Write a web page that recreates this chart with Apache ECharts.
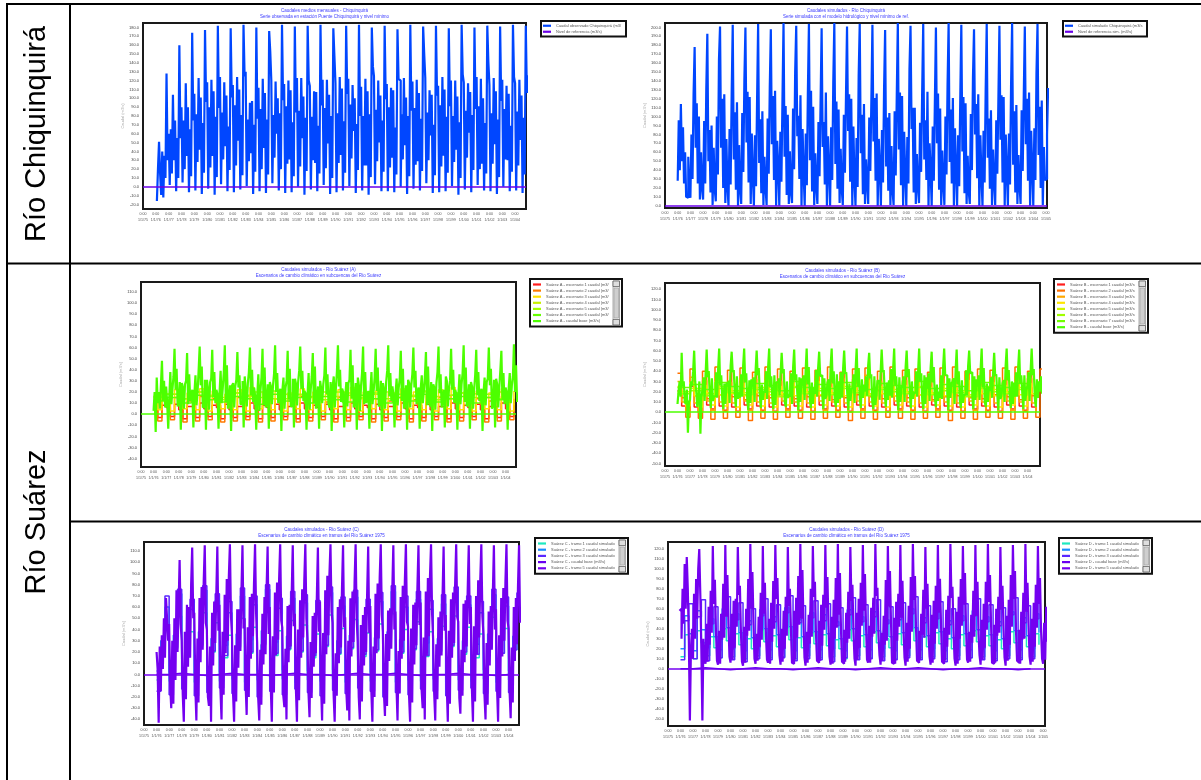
<!DOCTYPE html>
<html><head><meta charset="utf-8">
<script src="https://cdn.jsdelivr.net/npm/echarts@6/dist/echarts.min.js"></script>
<style>html,body{margin:0;padding:0;background:#fff}#c{width:1201px;height:780px}</style>
</head><body><div id="c"></div><script>
// ---------------- DATA (monthly values in y-axis units) ----------------
const rowLabels = ['Río Chiquinquirá', 'Río Suárez'];

// Chart 1 – Río Chiquinquirá (left)
const chqObsStart = 1976 + 1/12;
const chqObsFlow = [
 -1.6, 2.0, 5.1, 1.5, -0.9, 4.0, -1.2, 3.5, 1.0, 12.8, 3.0, 6.0,
 0.2, 6.5, 1.5, 10.4, 3.0, 7.5, -0.5, 5.5, 1.0, 16.0, 5.5, 9.0,
 0.5, 7.5, 2.0, 11.7, 3.5, 9.0, -0.6, 6.5, 1.2, 17.4, 7.5, 10.5,
 -0.4, 8.2, 2.8, 12.3, 4.2, 10.1, -0.8, 7.2, 1.6, 17.7, 9.6, 11.8,
 -0.2, 9.0, 2.2, 12.1, 3.5, 10.8, -0.9, 7.9, 1.1, 18.2, 8.9, 12.4,
 0.3, 8.4, 3.1, 11.8, 4.6, 10.3, -0.5, 6.8, 1.9, 17.9, 10.1, 11.5,
 -0.6, 9.2, 2.4, 12.4, 5.2, 11.0, -0.3, 8.1, 1.3, 18.3, 12.5, 13.0,
 0.1, 7.6, 2.9, 9.5, 3.8, 9.7, -0.8, 7.0, 1.7, 18.0, 7.7, 11.2,
 -0.5, 8.8, 2.0, 12.2, 4.4, 10.6, -0.7, 7.6, 1.4, 17.6, 15.3, 12.0,
 0.4, 8.1, 3.3, 11.9, 6.0, 10.0, -0.4, 8.3, 2.0, 18.3, 9.8, 11.6,
 -0.7, 9.1, 2.6, 12.0, 3.1, 10.9, -0.6, 7.3, 1.2, 18.1, 8.4, 12.3,
 0.0, 8.6, 2.3, 12.3, 5.5, 10.2, -0.9, 7.8, 1.8, 18.2, 12.0, 11.4,
 -0.3, 7.9, 3.0, 10.8, 2.7, 10.7, -0.5, 6.9, 1.5, 18.3, 9.2, 12.1,
 0.2, 8.9, 2.1, 12.1, 4.9, 10.4, -0.8, 8.0, 1.0, 17.9, 14.8, 11.7,
 -0.6, 8.3, 2.7, 12.4, 3.6, 11.1, -0.4, 7.4, 1.6, 18.2, 10.5, 12.2,
 0.1, 9.3, 3.2, 11.5, 6.3, 10.0, -0.7, 7.1, 1.9, 18.3, 8.0, 11.3,
 -0.4, 8.0, 2.4, 12.2, 2.4, 10.8, -0.9, 8.2, 1.1, 18.0, 13.6, 12.5,
 0.3, 8.7, 2.9, 12.0, 5.0, 10.3, -0.5, 7.5, 1.7, 18.2, 9.9, 11.6,
 -0.5, 9.0, 2.2, 11.2, 3.3, 10.9, -0.6, 6.7, 1.4, 17.8, 12.2, 12.0,
 0.0, 8.2, 3.1, 12.3, 4.7, 10.1, -0.8, 8.0, 1.2, 18.3, 8.6, 11.9,
 -0.2, 8.9, 2.5, 12.1, 2.9, 10.6, -0.4, 7.7, 1.8, 18.1, 15.0, 12.3,
 0.4, 8.4, 3.0, 10.9, 5.8, 10.4, -0.7, 7.0, 1.3, 18.2, 10.3, 11.4,
 -0.6, 9.2, 2.3, 12.4, 3.5, 11.0, -0.5, 7.9, 1.6, 17.9, 9.1, 12.0,
 0.1, 8.0, 2.8, 12.0, 4.2, 10.2, -0.9, 7.3, 1.0, 18.3, 12.7, 11.8,
 -0.3, 8.6, 3.3, 11.7, 6.1, 10.7, -0.6, 8.1, 1.9, 18.0, 8.8, 12.4,
 0.2, 9.1, 2.0, 12.2, 2.6, 10.0, -0.4, 7.2, 1.5, 18.2, 14.1, 11.5,
 -0.5, 8.3, 2.6, 12.3, 4.8, 10.8, -0.8, 7.6, 1.1, 18.1, 9.7, 12.1,
 0.0, 8.8, 3.1, 11.4, 3.0, 10.5, -0.5, 6.9, 1.7, 18.3, 12.4, 11.7,
 -0.4, 8.5, 2.4, 12.1, 5.3, 10.3, -0.7, 7.8, 1.4, 18.2, 10.6, 12.6
];

// Chart 2 – Río Chiquinquirá (right)
const chqSimStart = 1976;
const chqSimFlow = [
 2.8, 9.6, 4.0, 11.4, 5.0, 8.8, 2.5, 6.0, 1.0, 0.9, 5.5, 1.5,
 0.9, 8.0, 3.0, 12.5, 17.8, 6.5, 11.5, 2.5, 10.0, 0.7, 6.0, 2.0,
 0.7, 9.5, 2.5, 13.0, 19.3, 5.0, 8.5, 1.5, 9.0, 0.1, 6.5, 1.8,
 0.5, 10.0, 3.5, 16.4, 20.1, 6.5, 12.0, 2.0, 12.5, 0.3, 7.5, 2.2,
 0.0, 8.6, 2.4, 12.6, 20.3, 5.2, 10.5, 1.8, 11.6, 0.0, 6.8, 1.8,
 0.2, 10.4, 3.8, 14.1, 20.0, 7.1, 12.8, 2.6, 12.2, 0.2, 8.1, 3.2,
 0.0, 7.9, 2.2, 11.8, 20.4, 4.8, 9.7, 1.4, 10.6, 0.1, 5.5, 2.0,
 0.1, 9.8, 3.6, 13.3, 19.8, 6.9, 12.3, 2.9, 12.9, 0.0, 7.3, 4.4,
 0.0, 8.3, 2.7, 12.0, 20.5, 5.5, 11.2, 1.2, 10.2, 0.2, 6.1, 1.5,
 0.3, 10.9, 4.1, 15.0, 20.2, 7.8, 10.1, 3.0, 12.4, 0.0, 8.6, 3.6,
 0.0, 8.1, 2.3, 12.7, 20.4, 5.1, 12.9, 1.6, 11.1, 0.1, 5.9, 2.2,
 0.2, 9.4, 3.3, 11.5, 19.9, 6.6, 9.4, 2.4, 12.7, 0.0, 7.8, 4.1,
 0.0, 8.8, 2.9, 13.8, 20.5, 4.7, 11.7, 1.9, 10.8, 0.3, 6.4, 1.9,
 0.1, 10.2, 3.7, 12.2, 20.1, 8.4, 12.5, 2.7, 12.0, 0.0, 8.9, 3.0,
 0.0, 7.6, 2.1, 14.6, 20.4, 5.9, 10.2, 1.3, 11.4, 0.2, 5.2, 2.6,
 0.2, 9.9, 3.9, 11.9, 20.3, 7.2, 12.1, 2.8, 12.6, 0.0, 7.5, 4.3,
 0.0, 8.5, 2.6, 13.1, 19.7, 4.4, 9.9, 1.7, 10.4, 0.1, 6.7, 1.7,
 0.1, 10.6, 3.4, 12.4, 20.5, 6.3, 12.7, 2.3, 12.3, 0.0, 8.3, 3.4,
 0.0, 7.7, 2.5, 15.3, 20.2, 8.6, 11.0, 1.5, 11.0, 0.2, 5.8, 2.1,
 0.3, 9.3, 3.8, 12.8, 20.4, 5.2, 9.6, 2.9, 12.8, 0.0, 7.0, 3.9,
 0.0, 8.9, 2.8, 11.6, 20.0, 7.0, 12.6, 1.8, 10.9, 0.1, 6.2, 2.4,
 0.1, 10.0, 3.5, 13.6, 20.5, 4.9, 10.8, 2.5, 12.1, 0.0, 8.7, 4.0,
 0.0, 7.9, 2.2, 12.1, 20.3, 6.1, 12.2, 1.4, 11.5, 0.2, 5.6, 1.6,
 0.2, 10.3, 4.0, 14.4, 19.8, 8.0, 11.4, 3.1, 12.5, 0.0, 7.9, 3.3,
 0.0, 8.4, 2.6, 12.9, 20.4, 5.4, 9.8, 1.9, 10.7, 0.1, 6.3, 2.7,
 0.1, 9.6, 3.6, 11.7, 20.2, 7.4, 12.4, 2.6, 12.2, 0.0, 8.0, 3.8,
 0.0, 8.1, 2.4, 13.5, 20.5, 4.6, 10.6, 1.5, 11.3, 0.2, 5.7, 2.3,
 0.2, 10.7, 3.9, 12.3, 20.1, 6.9, 12.0, 2.8, 12.7, 0.0, 8.4, 4.2,
 0.0, 8.7, 2.9, 14.8, 20.4, 5.7, 11.1, 2.0, 11.8, 0.1, 6.6, 2.9,
 3.0, 8.0, 13.2
];

// Chart 3 – Río Suárez (row 2, left)
const suaAStart = 1976;
const suaARed = [
 0.5,-0.3,0.8, 0.6,-0.2,0.9, 0.4,-0.4,0.7, 0.7,-0.3,1.0, 0.5,-0.2,0.8, 0.6,-0.4,0.9, 0.4,-0.3,0.7, 0.7,-0.2,1.0, 0.5,-0.4,0.8, 0.6,-0.3,0.9,
 0.4,-0.2,0.7, 0.7,-0.4,1.0, 0.5,-0.3,0.8, 0.6,-0.2,0.9, 0.4,-0.4,0.7, 0.7,-0.3,1.0, 0.5,-0.2,0.8, 0.6,-0.4,0.9, 0.4,-0.3,0.7, 0.7,-0.2,1.0,
 0.5,-0.4,0.8, 0.6,-0.3,0.9, 0.4,-0.2,0.7, 0.7,-0.4,1.0, 0.5,-0.3,0.8, 0.6,-0.2,0.9, 0.4,-0.4,0.7, 0.7,-0.3,1.0, 0.5,-0.2,0.8];
const suaAOrange = [
 1.0,-0.6,1.3, 1.2,-0.5,1.5, 0.9,-0.7,1.2, 1.3,-0.6,1.6, 1.1,-0.5,1.4, 0.8,-0.7,1.1, 1.2,-0.6,1.5, 1.4,-0.5,1.7, 1.0,-0.7,1.3, 1.2,-0.6,1.4,
 0.9,-0.5,1.2, 1.3,-0.7,1.6, 1.1,-0.6,1.3, 0.8,-0.5,1.1, 1.2,-0.7,1.5, 1.4,-0.6,1.7, 1.0,-0.5,1.3, 1.2,-0.7,1.4, 0.9,-0.6,1.2, 1.3,-0.5,1.6,
 1.1,-0.7,1.3, 0.8,-0.6,1.1, 1.2,-0.5,1.5, 1.4,-0.7,1.7, 1.0,-0.6,1.3, 1.2,-0.5,1.4, 0.9,-0.7,1.2, 1.3,-0.6,1.6, 1.1,-0.5,1.4];
const suaAYellow = [
 1.6,0.4,2.0, 1.8,0.3,2.2, 1.5,0.5,1.9, 1.9,0.4,2.3, 1.7,0.3,2.1, 1.4,0.5,1.8, 1.8,0.4,2.2, 2.0,0.3,2.4, 1.6,0.5,2.0, 1.8,0.4,2.1,
 1.5,0.3,1.9, 1.9,0.5,2.3, 1.7,0.4,2.0, 1.4,0.3,1.8, 1.8,0.5,2.2, 2.0,0.4,2.4, 1.6,0.3,2.0, 1.8,0.5,2.1, 1.5,0.4,1.9, 1.9,0.3,2.3,
 1.7,0.5,2.0, 1.4,0.4,1.8, 1.8,0.3,2.2, 2.0,0.5,2.4, 1.6,0.4,2.0, 1.8,0.3,2.1, 1.5,0.5,1.9, 1.9,0.4,2.3, 1.7,0.3,2.1];
const suaAYellowGreen = [1.6,1.8,1.4,2.0,1.7,1.5,1.9,1.6,2.0,1.4,1.8,1.7,1.5,2.0,1.6,1.9,1.4,1.8,2.0,1.5,1.7,2.0,1.6,1.4,1.9,1.8,1.5,2.0,1.7];
const suaALime = [1.5,1.8,1.4,2.0,1.6,1.3,1.9,1.7,1.5,2.1,1.4,1.8,1.6,1.3,2.0,1.7,1.5,1.9,1.4,1.8,1.6,2.1,1.3,1.7,1.9,1.5,1.8,1.4,2.0];
const suaAGreen = [1.2,1.5,1.0,1.7,1.3,1.1,1.6,1.4,0.9,1.8,1.2,1.5,1.0,1.6,1.3,1.1,1.7,1.4,1.0,1.5,1.2,1.8,1.1,1.4,1.6,1.0,1.5,1.3,1.7];
const suaAMain = [
 0.3, 2.0, -1.6, 3.3, 1.0, 2.0, 0.5, 2.6, 4.8, 1.2, 3.0, 0.6,
 2.5, 1.0, -1.3, 1.5, 3.8, 0.9, 2.2, 3.4, 5.9, 2.2, 4.1, 0.7,
 1.0, 2.9, -1.4, 2.8, 2.4, 0.5, 2.7, 3.0, 5.5, 0.9, 3.6, 1.2,
 1.8, 2.2, -1.2, 1.9, 3.5, 0.8, 2.0, 3.9, 6.1, 2.6, 4.3, 0.6,
 0.7, 3.1, -1.4, 3.1, 2.2, 0.4, 2.9, 3.2, 5.8, 1.5, 3.8, 1.0,
 2.2, 1.8, -1.3, 2.0, 3.9, 1.0, 2.3, 3.7, 6.2, 1.1, 4.4, 0.5,
 1.3, 2.6, -1.5, 2.6, 2.8, 0.6, 2.5, 3.1, 5.6, 2.4, 3.5, 0.9,
 0.9, 3.0, -1.2, 3.4, 2.1, 0.7, 2.8, 3.8, 6.0, 1.7, 4.0, 1.1,
 2.4, 1.6, -1.4, 1.7, 3.6, 0.3, 2.1, 3.3, 5.9, 0.8, 4.2, 0.6,
 1.1, 2.7, -1.3, 2.9, 2.5, 0.9, 2.6, 3.6, 6.2, 2.0, 3.7, 1.0,
 1.9, 2.3, -1.5, 2.2, 3.3, 0.5, 2.4, 3.0, 5.7, 1.3, 4.1, 0.7,
 0.8, 3.2, -1.2, 3.2, 2.7, 0.8, 2.9, 3.9, 6.1, 2.3, 3.9, 1.2,
 2.1, 1.9, -1.4, 1.8, 3.7, 0.4, 2.2, 3.4, 5.5, 1.0, 4.3, 0.5,
 1.4, 2.5, -1.3, 3.0, 2.3, 1.0, 2.7, 3.5, 6.0, 1.8, 3.6, 0.9,
 0.6, 2.9, -1.5, 2.5, 3.4, 0.6, 2.3, 3.8, 6.2, 2.5, 4.0, 1.1,
 2.3, 2.0, -1.2, 1.6, 2.9, 0.7, 2.8, 3.1, 5.8, 1.4, 4.4, 0.6,
 1.0, 2.8, -1.4, 3.3, 2.6, 0.3, 2.5, 3.7, 6.1, 0.9, 3.8, 1.0,
 1.7, 2.1, -1.3, 2.1, 3.8, 0.9, 2.0, 3.3, 5.9, 2.1, 4.2, 0.7,
 0.9, 3.0, -1.5, 2.8, 2.2, 0.5, 2.9, 3.9, 6.2, 1.6, 3.7, 1.2,
 2.5, 1.7, -1.2, 1.9, 3.2, 0.8, 2.4, 3.2, 5.7, 1.2, 4.1, 0.5,
 1.2, 2.6, -1.4, 3.1, 2.8, 0.6, 2.6, 3.6, 6.0, 2.4, 3.9, 0.9,
 2.0, 2.4, -1.3, 2.3, 3.5, 1.0, 2.1, 3.4, 5.6, 0.8, 4.3, 1.1,
 0.7, 2.9, -1.5, 2.7, 2.4, 0.4, 2.8, 3.8, 6.1, 1.9, 3.6, 0.6,
 1.6, 2.2, -1.2, 3.4, 3.0, 0.7, 2.3, 3.0, 5.9, 2.2, 4.0, 1.0,
 2.2, 1.8, -1.4, 1.8, 3.6, 0.9, 2.7, 3.7, 6.2, 1.1, 4.2, 0.7,
 1.1, 2.7, -1.3, 2.9, 2.5, 0.5, 2.2, 3.5, 5.8, 1.7, 3.8, 1.2,
 1.9, 2.3, -1.5, 2.0, 3.3, 0.8, 2.9, 3.2, 6.0, 2.6, 4.1, 0.5,
 0.8, 3.1, -1.2, 3.2, 2.7, 0.6, 2.4, 3.9, 5.7, 1.3, 3.7, 0.9,
 2.4, 2.0, -1.4, 2.4, 3.7, 1.0, 2.6, 3.4, 6.3, 2.0, 4.4, 1.1
];

// Chart 4 – Río Suárez (row 2, right)
const suaBStart = 1976;
const suaBRed = [
 2.1,0.6,0.2, 2.5,0.5,0.1, 2.2,0.7,0.3, 2.6,0.6,0.2, 2.0,0.5,0.1, 2.4,0.7,0.3, 2.3,0.6,0.2, 2.7,0.5,0.1, 2.1,0.7,0.3, 2.5,0.6,0.2,
 2.2,0.5,0.1, 2.6,0.7,0.3, 2.0,0.6,0.2, 2.4,0.5,0.1, 2.3,0.7,0.3, 2.7,0.6,0.2, 2.1,0.5,0.1, 2.5,0.7,0.3, 2.2,0.6,0.2, 2.6,0.5,0.1,
 2.0,0.7,0.3, 2.4,0.6,0.2, 2.3,0.5,0.1, 2.7,0.7,0.3, 2.1,0.6,0.2, 2.5,0.5,0.1, 2.2,0.7,0.3, 2.6,0.6,0.2, 2.4,0.5,0.1];
const suaBOrange = [
 3.8,1.4,-0.5, 4.2,1.6,-0.6, 4.0,1.3,-0.7, 4.4,1.7,-0.6, 4.1,1.5,-0.5, 4.3,1.2,-0.8, 3.9,1.6,-0.6, 4.4,1.4,-0.7, 4.2,1.7,-0.5, 4.0,1.3,-0.6,
 4.3,1.5,-0.7, 4.1,1.6,-0.6, 4.4,1.2,-0.5, 3.9,1.4,-0.8, 4.2,1.7,-0.6, 4.3,1.5,-0.7, 4.0,1.3,-0.5, 4.4,1.6,-0.6, 4.1,1.4,-0.7, 4.2,1.7,-0.6,
 3.9,1.2,-0.5, 4.3,1.5,-0.8, 4.4,1.6,-0.6, 4.0,1.4,-0.7, 4.2,1.3,-0.5, 4.1,1.7,-0.6, 4.3,1.5,-0.7, 4.4,1.2,-0.6, 4.0,1.6,-0.5, 4.2,1.5];
const suaBAmber = [
 3.0,1.0,0.1, 3.4,0.9,0.0, 3.1,1.1,0.2, 3.5,1.0,0.1, 2.9,0.9,0.0, 3.3,1.1,0.2, 3.2,1.0,0.1, 3.6,0.9,0.0, 3.0,1.1,0.2, 3.4,1.0,0.1,
 3.1,0.9,0.0, 3.5,1.1,0.2, 2.9,1.0,0.1, 3.3,0.9,0.0, 3.2,1.1,0.2, 3.6,1.0,0.1, 3.0,0.9,0.0, 3.4,1.1,0.2, 3.1,1.0,0.1, 3.5,0.9,0.0,
 2.9,1.1,0.2, 3.3,1.0,0.1, 3.2,0.9,0.0, 3.6,1.1,0.2, 3.0,1.0,0.1, 3.4,0.9,0.0, 3.1,1.1,0.2, 3.5,1.0,0.1, 3.3,0.9,0.0];
const suaBYellow = [
 2.5,1.8,0.6, 2.9,1.6,0.5, 2.6,1.9,0.7, 3.0,1.7,0.6, 2.4,1.8,0.5, 2.8,1.6,0.7, 2.7,1.9,0.6, 3.1,1.7,0.5, 2.5,1.8,0.7, 2.9,1.6,0.6,
 2.6,1.9,0.5, 3.0,1.7,0.7, 2.4,1.8,0.6, 2.8,1.6,0.5, 2.7,1.9,0.7, 3.1,1.7,0.6, 2.5,1.8,0.5, 2.9,1.6,0.7, 2.6,1.9,0.6, 3.0,1.7,0.5,
 2.4,1.8,0.7, 2.8,1.6,0.6, 2.7,1.9,0.5, 3.1,1.7,0.7, 2.5,1.8,0.6, 2.9,1.6,0.5, 2.6,1.9,0.7, 3.0,1.7,0.6, 2.8,1.8,0.5];
const suaBYellowGreen = [2.0,2.3,1.8,2.5,2.1,1.9,2.4,2.2,1.7,2.5,2.0,2.3,1.9,2.5,2.1,1.8,2.4,2.2,2.0,2.5,1.9,2.3,2.1,1.7,2.5,2.2,2.0,2.4,1.8];
const suaBLime = [1.8,2.1,1.6,2.3,1.9,1.7,2.2,2.0,1.5,2.4,1.8,2.1,1.7,2.3,1.9,1.6,2.2,2.0,1.8,2.4,1.7,2.1,1.9,1.5,2.3,2.0,1.8,2.2,1.6];
const suaBGreen = [2.4,2.7,2.2,2.9,2.5,2.3,2.8,2.6,2.1,3.0,2.4,2.7,2.3,2.9,2.5,2.2,2.8,2.6,2.4,3.0,2.3,2.7,2.5,2.1,2.9,2.6,2.4,2.8,2.2];
const suaBMain = [
 0.8, 2.0, 3.0, 1.5, 5.8, 2.5, 3.0, 1.0, 0.8, 2.2, -2.0, 1.0,
 1.2, 3.0, 2.5, 4.0, 6.0, 3.0, 2.0, 0.5, 1.5, 3.0, -2.1, 1.5,
 2.2, 3.4, 1.1, 3.8, 6.1, 3.4, 4.0, 1.6, 0.4, 3.3, 1.1, 1.5,
 1.6, 3.9, 1.4, 4.2, 6.2, 2.6, 3.6, 1.2, 0.3, 2.8, 0.8, 2.8,
 2.8, 3.1, 0.9, 4.5, 5.9, 3.9, 4.1, 1.8, 0.5, 3.5, 1.3, 1.9,
 1.4, 3.7, 1.5, 4.5, 6.2, 2.9, 3.8, 1.1, 0.2, 3.1, 0.9, 3.2,
 2.5, 3.4, 1.0, 4.1, 6.0, 3.6, 4.3, 1.7, 0.4, 2.7, 1.2, 2.1,
 1.9, 4.0, 1.3, 4.4, 6.2, 2.4, 3.5, 1.4, 0.3, 3.6, 0.7, 2.9,
 3.0, 3.3, 1.6, 3.9, 5.8, 3.8, 4.2, 1.0, 0.5, 3.0, 1.4, 1.7,
 1.5, 3.8, 0.8, 4.4, 6.1, 3.1, 3.7, 1.9, 0.2, 3.4, 1.0, 3.3,
 2.6, 3.6, 1.2, 4.0, 6.2, 2.7, 4.4, 1.3, 0.4, 2.9, 0.8, 2.4,
 1.8, 4.1, 1.5, 4.3, 5.9, 3.5, 3.6, 1.6, 0.3, 3.3, 1.3, 1.6,
 2.9, 3.2, 1.1, 4.5, 6.2, 2.8, 4.0, 1.2, 0.5, 3.7, 0.9, 3.0,
 1.3, 3.9, 1.4, 4.3, 6.0, 3.7, 3.9, 1.8, 0.2, 2.8, 1.1, 2.2,
 2.4, 3.7, 0.9, 4.2, 6.2, 2.5, 4.3, 1.4, 0.4, 3.2, 1.4, 2.7,
 2.0, 3.5, 1.6, 4.5, 5.8, 3.3, 3.7, 1.0, 0.3, 3.5, 0.7, 1.8,
 3.1, 3.0, 1.2, 3.9, 6.1, 3.9, 4.1, 1.7, 0.5, 2.9, 1.2, 3.1,
 1.6, 4.2, 1.4, 4.2, 6.2, 2.6, 3.5, 1.3, 0.2, 3.4, 1.0, 2.3,
 2.7, 3.5, 1.0, 4.4, 6.0, 3.4, 4.2, 1.9, 0.4, 3.0, 1.3, 1.9,
 1.9, 4.0, 1.5, 4.0, 6.2, 3.0, 3.8, 1.1, 0.3, 3.6, 0.8, 3.4,
 2.3, 3.8, 1.1, 4.3, 5.9, 2.9, 4.4, 1.5, 0.5, 2.7, 1.1, 2.0,
 1.4, 3.6, 1.3, 4.4, 6.2, 3.6, 3.6, 1.8, 0.2, 3.3, 1.4, 2.8,
 3.0, 3.3, 0.8, 4.1, 6.1, 2.7, 4.0, 1.2, 0.4, 3.1, 0.9, 1.7,
 1.7, 4.1, 1.6, 4.5, 6.0, 3.8, 3.9, 1.6, 0.3, 3.5, 1.2, 3.2,
 2.5, 3.6, 1.2, 4.2, 6.2, 2.4, 4.3, 1.0, 0.5, 2.8, 1.0, 2.5,
 2.1, 3.4, 1.4, 3.9, 5.8, 3.5, 3.7, 1.7, 0.2, 3.4, 1.3, 1.6,
 2.8, 3.1, 1.0, 4.5, 6.2, 3.1, 4.1, 1.3, 0.4, 3.0, 0.8, 2.9,
 1.5, 3.9, 1.5, 4.3, 6.1, 2.8, 3.6, 1.9, 0.3, 3.6, 1.1, 2.2,
 2.6, 3.9, 1.1, 4.0, 6.2, 3.6, 4.2, 1.4, 0.5, 3.2, 1.4, 3.0,
 2.0, 3.5, 1.8
];

// Chart 5 – Río Suárez (row 3, left)
const suaCStart = 1976;
const suaCCyan = [
 -0.5,1.8,4.0, -0.6,2.3,5.2, -0.4,1.6,3.8, -0.7,2.5,5.5, -0.5,2.0,4.6, -0.6,1.5,3.5, -0.4,2.4,5.0, -0.7,1.9,4.2, -0.5,2.6,5.6, -0.6,1.7,3.9,
 -0.4,2.2,4.8, -0.7,2.0,4.4, -0.5,1.5,3.6, -0.6,2.5,5.3, -0.4,1.8,4.1, -0.7,2.3,4.9, -0.5,1.6,3.7, -0.6,2.1,4.5, -0.4,2.6,5.4, -0.7,1.9,4.0,
 -0.5,2.2,4.7, -0.6,1.6,3.8, -0.4,2.0,4.3, -0.7,2.5,5.2, -0.5,1.8,4.2, -0.6,1.5,3.6, -0.4,2.4,5.1, -0.7,1.9,4.1, -0.5,2.2,4.8];
const suaCAzure = [
 0.3,3.0,6.0, 0.2,3.5,7.2, 0.4,2.8,5.8, 0.1,3.8,7.5, 0.3,3.2,6.6, 0.2,2.6,5.5, 0.4,3.6,7.0, 0.1,3.1,6.2, 0.3,3.9,7.6, 0.2,2.9,5.9,
 0.4,3.4,6.8, 0.1,3.2,6.4, 0.3,2.7,5.6, 0.2,3.7,7.3, 0.4,3.0,6.1, 0.1,3.5,6.9, 0.3,2.8,5.7, 0.2,3.3,6.5, 0.4,3.8,7.4, 0.1,3.1,6.0,
 0.3,3.4,6.7, 0.2,2.8,5.8, 0.4,3.2,6.3, 0.1,3.7,7.2, 0.3,3.0,6.2, 0.2,2.7,5.5, 0.4,3.6,7.1, 0.1,3.1,6.1, 0.3,3.4,6.8];
const suaCBlue = [
 -1.5,2.0,7.0, -1.8,2.4,7.6, -1.3,1.8,6.7, -1.9,2.6,7.9, -1.6,2.1,7.2, -1.2,1.7,6.5, -1.7,2.5,7.7, -1.4,2.0,7.0, -2.0,2.7,8.0, -1.5,1.9,6.8,
 -1.8,2.3,7.4, -1.3,2.1,7.1, -1.6,1.7,6.6, -1.9,2.6,7.8, -1.4,1.9,6.9, -1.7,2.4,7.5, -1.2,1.8,6.7, -1.5,2.2,7.3, -2.0,2.7,7.9, -1.6,2.0,7.0,
 -1.8,2.3,7.4, -1.3,1.7,6.6, -1.5,2.1,7.1, -1.9,2.6,7.8, -1.4,2.0,7.0, -1.2,1.8,6.5, -1.7,2.5,7.6, -1.5,1.9,6.9, -1.6,2.2,7.3];
const suaCPurple = [0.0,0.1,0.0,-0.1,0.0,0.1,0.0,0.0,-0.1,0.0,0.1,0.0,0.0,-0.1,0.0,0.1,0.0,0.0,0.1,0.0,-0.1,0.0,0.0,0.1,0.0,0.0,-0.1,0.0,0.0];
const suaCMain = [
 2.0, 0.5, -4.3, 2.5, -1.5, 3.5, 0.5, 5.0, 1.5, 6.8, 5.0, 3.0,
 4.5, -1.0, -3.0, 3.0, -2.6, 5.0, -0.5, 7.5, 2.0, 6.0, 10.2, 4.5,
 3.0, -1.8, -4.2, 3.8, -2.2, 6.2, 0.7, 6.0, 1.5, 8.0, 11.3, 5.0,
 5.5, -1.2, -4.1, 3.2, -2.5, 6.8, 1.1, 7.8, 2.2, 8.3, 11.5, 4.6,
 4.0, -2.0, -2.8, 2.5, -4.2, 5.5, 0.8, 6.5, 2.8, 7.1, 11.4, 3.9,
 6.2, -1.4, -4.0, 3.8, -1.8, 7.1, 1.9, 8.5, 3.0, 8.8, 11.6, 5.2,
 3.5, -1.7, -4.2, 2.6, -2.4, 5.8, 0.6, 5.8, 2.1, 7.4, 11.5, 4.1,
 5.0, -0.9, -3.6, 4.2, -2.0, 6.9, 1.4, 7.2, 3.4, 8.1, 11.6, 5.5,
 2.8, -2.1, -4.1, 2.2, -2.7, 5.4, 0.9, 6.9, 1.8, 7.6, 11.4, 3.6,
 6.0, -1.1, -4.2, 3.4, -1.6, 7.3, 1.7, 8.2, 3.1, 8.6, 11.6, 4.8,
 4.2, -1.9, -2.9, 2.3, -4.0, 6.1, 1.1, 6.2, 2.5, 7.3, 11.5, 4.3,
 5.4, -1.3, -4.2, 4.0, -2.3, 6.6, 1.5, 7.6, 3.3, 8.4, 11.6, 5.0,
 3.2, -1.6, -3.8, 2.9, -2.1, 5.2, 0.7, 5.5, 1.9, 7.0, 11.3, 3.8,
 6.5, -1.0, -4.1, 3.7, -2.6, 7.5, 1.8, 8.8, 3.5, 8.9, 11.6, 5.6,
 4.6, -1.8, -4.2, 1.9, -1.9, 6.0, 1.0, 6.7, 2.4, 7.7, 11.5, 4.2,
 5.1, -1.2, -3.2, 3.0, -4.1, 6.8, 1.6, 7.4, 2.9, 8.2, 11.6, 4.9,
 2.9, -2.0, -4.0, 4.4, -2.4, 5.3, 0.8, 6.0, 2.0, 7.2, 11.4, 3.7,
 6.1, -1.5, -4.2, 2.5, -2.0, 7.2, 1.9, 8.1, 3.2, 8.7, 11.6, 5.3,
 3.8, -1.6, -3.7, 3.6, -2.8, 5.7, 1.2, 5.9, 2.3, 7.5, 11.5, 4.0,
 5.6, -1.1, -4.1, 2.1, -1.7, 6.9, 1.4, 7.9, 3.0, 8.3, 11.6, 4.7,
 4.3, -1.9, -4.2, 4.1, -2.5, 6.2, 0.9, 6.4, 2.6, 7.8, 11.5, 4.4,
 6.4, -1.4, -3.0, 3.3, -4.0, 7.4, 1.7, 8.6, 3.4, 8.8, 11.6, 5.4,
 3.1, -1.7, -4.1, 2.7, -2.2, 5.1, 0.7, 5.6, 1.7, 7.1, 11.4, 3.9,
 5.3, -1.0, -4.2, 3.9, -2.6, 6.7, 1.5, 7.3, 2.8, 8.0, 11.6, 5.1,
 4.7, -2.1, -3.5, 2.2, -1.9, 6.3, 1.1, 6.6, 2.5, 7.6, 11.5, 4.5,
 6.0, -1.3, -4.2, 4.3, -2.4, 7.0, 1.8, 8.4, 3.3, 8.5, 11.6, 5.2,
 3.6, -1.8, -4.0, 2.8, -2.7, 5.6, 0.8, 6.1, 2.2, 7.3, 11.5, 4.0,
 5.8, -1.2, -4.2, 3.5, -2.1, 6.8, 1.6, 7.7, 3.0, 8.2, 11.6, 4.8,
 4.1, -1.6, -3.9, 2.4, -2.5, 6.0, 1.2, 6.8, 2.7, 7.9, 11.5, 4.6
];

// Chart 6 – Río Suárez (row 3, right)
const suaDStart = 1975 + 11/12;
const suaDSecStart = 1976;
const suaDCyan = [
 1.2,3.4,2.3, 1.0,3.8,2.6, 1.3,3.2,2.1, 1.1,4.0,2.8, 1.2,3.5,2.4, 1.0,3.0,2.0, 1.3,3.9,2.7, 1.1,3.3,2.2, 1.2,4.1,2.9, 1.0,3.1,2.1,
 1.3,3.6,2.5, 1.1,3.4,2.3, 1.2,2.9,2.0, 1.0,3.9,2.8, 1.3,3.3,2.2, 1.1,3.7,2.6, 1.2,3.0,2.1, 1.0,3.5,2.4, 1.3,4.0,2.8, 1.1,3.2,2.2,
 1.2,3.6,2.5, 1.0,3.0,2.0, 1.3,3.4,2.3, 1.1,3.8,2.7, 1.2,3.3,2.3, 1.0,2.9,2.0, 1.3,3.7,2.6, 1.1,3.2,2.2, 1.2,3.5,2.4];
const suaDAzure = [
 2.0,5.3,3.5, 1.8,5.8,3.9, 2.1,5.0,3.2, 1.9,6.0,4.1, 2.0,5.5,3.6, 1.8,4.8,3.1, 2.1,5.9,4.0, 1.9,5.2,3.4, 2.0,6.1,4.2, 1.8,4.9,3.2,
 2.1,5.6,3.7, 1.9,5.4,3.5, 2.0,4.7,3.0, 1.8,5.9,4.0, 2.1,5.2,3.4, 1.9,5.7,3.8, 2.0,4.9,3.2, 1.8,5.4,3.6, 2.1,6.0,4.1, 1.9,5.1,3.3,
 2.0,5.6,3.7, 1.8,4.8,3.1, 2.1,5.3,3.5, 1.9,5.8,3.9, 2.0,5.2,3.4, 1.8,4.7,3.0, 2.1,5.7,3.8, 1.9,5.1,3.3, 2.0,5.5,3.6];
const suaDBlue = [
 0.9,4.8,6.5, 1.0,5.2,6.9, 0.8,4.5,6.2, 1.1,5.5,7.2, 0.9,4.9,6.6, 0.7,4.4,6.0, 1.0,5.3,7.0, 0.9,4.7,6.4, 1.1,5.6,7.3, 0.8,4.6,6.3,
 1.0,5.1,6.8, 0.9,4.8,6.5, 0.7,4.3,6.1, 1.1,5.4,7.1, 0.9,4.7,6.4, 1.0,5.2,6.9, 0.8,4.5,6.2, 0.9,4.9,6.6, 1.1,5.5,7.2, 0.9,4.6,6.3,
 1.0,5.0,6.7, 0.7,4.4,6.0, 0.9,4.8,6.5, 1.1,5.3,7.0, 0.9,4.7,6.4, 0.8,4.3,6.1, 1.0,5.4,7.1, 0.9,4.6,6.3, 1.0,5.0,6.7];
const suaDPurple = [0.0,0.1,0.0,-0.1,0.0,0.1,0.0,0.0,-0.1,0.0,0.1,0.0,0.0,-0.1,0.0,0.1,0.0,0.0,0.1,0.0,-0.1,0.0,0.0,0.1,0.0,0.0,-0.1,0.0,0.0];
const suaDMain = [
 5.8, 6.0, 3.0, 8.0, 4.5, 10.5, 6.0, 11.2, 8.0, 3.0, -5.2, 2.0,
 4.0, 1.0, 7.5, 3.0, 9.0, 5.0, 10.0, 12.0, 7.5, 2.0, -5.2, 3.0,
 1.0, 0.5, 4.5, 0.7, 6.2, 2.4, 7.8, 3.6, 12.3, 6.5, 8.9, 3.9,
 0.8, 0.4, 3.8, 0.5, 5.5, 2.9, 8.5, 3.1, 12.4, 5.2, 9.4, 4.5,
 1.2, 0.6, 5.5, 0.9, 6.8, 2.1, 7.0, 4.2, 12.2, 7.4, 8.3, 3.6,
 0.7, 0.3, 4.2, 0.6, 6.0, 3.3, 9.0, 3.8, 12.5, 6.0, 9.7, 4.8,
 1.0, 0.5, 3.5, 0.8, 5.2, 2.2, 7.6, 2.9, 12.3, 5.5, 8.6, 3.4,
 0.9, 0.6, 5.0, 0.5, 6.6, 2.7, 8.8, 4.0, 12.4, 7.0, 9.1, 4.2,
 1.3, 0.4, 4.0, 0.7, 5.8, 2.0, 7.2, 3.3, 12.2, 6.3, 8.0, 3.8,
 0.6, 0.5, 5.8, 0.9, 7.1, 3.1, 9.3, 4.4, 12.5, 5.0, 9.9, 4.6,
 1.1, 0.3, 3.7, 0.6, 5.4, 2.5, 8.0, 3.2, 12.3, 7.2, 8.7, 3.5,
 0.8, 0.6, 4.8, 0.8, 6.4, 2.3, 7.4, 3.9, 12.4, 6.1, 9.2, 4.3,
 1.2, 0.4, 5.2, 0.5, 6.9, 3.0, 9.1, 4.1, 12.5, 5.4, 9.6, 4.0,
 0.7, 0.5, 3.9, 0.7, 5.6, 2.6, 7.7, 3.0, 12.2, 6.8, 8.4, 3.7,
 1.0, 0.3, 5.6, 0.9, 7.0, 2.1, 8.6, 4.3, 12.4, 5.8, 9.5, 4.4,
 0.9, 0.6, 4.3, 0.6, 6.1, 3.2, 7.1, 3.5, 12.5, 7.3, 8.1, 3.3,
 1.3, 0.4, 3.6, 0.8, 5.3, 2.4, 8.9, 2.8, 12.3, 6.2, 9.8, 4.7,
 0.6, 0.5, 5.1, 0.5, 6.7, 2.8, 7.5, 4.2, 12.4, 5.1, 8.8, 3.9,
 1.1, 0.3, 4.6, 0.7, 6.3, 2.0, 9.2, 3.7, 12.5, 6.9, 9.3, 4.1,
 0.8, 0.6, 3.8, 0.9, 5.5, 3.4, 7.9, 3.1, 12.2, 6.0, 8.5, 3.6,
 1.2, 0.4, 5.4, 0.6, 6.8, 2.5, 8.3, 4.0, 12.4, 5.6, 9.0, 4.5,
 0.7, 0.5, 4.1, 0.8, 5.9, 2.2, 7.3, 3.4, 12.5, 7.1, 8.2, 3.8,
 1.0, 0.3, 5.7, 0.5, 7.2, 3.0, 9.0, 4.3, 12.3, 6.4, 9.6, 4.2,
 0.9, 0.6, 3.7, 0.7, 5.4, 2.6, 7.8, 3.2, 12.4, 5.3, 8.7, 3.5,
 1.3, 0.4, 4.9, 0.9, 6.5, 2.1, 8.7, 3.9, 12.5, 6.7, 9.4, 4.6,
 0.6, 0.5, 4.4, 0.6, 6.0, 3.3, 7.2, 3.6, 12.2, 5.9, 8.3, 4.0,
 1.1, 0.3, 5.3, 0.8, 6.9, 2.4, 9.4, 4.2, 12.4, 7.0, 9.8, 3.7,
 0.8, 0.6, 3.9, 0.5, 5.7, 2.9, 7.6, 3.0, 12.5, 5.7, 8.6, 4.4,
 1.2, 0.4, 5.0, 0.7, 6.6, 2.2, 8.4, 4.1, 12.3, 6.5, 9.1, 3.9,
 1.0, 0.5, 4.6, 0.9, 6.2, 2.7, 8.0, 3.5, 12.4, 6.0, 8.9, 4.3
];

// Legend names and titles
const chqLeftNames = ['Caudal observado Chiquinquirá (m3/s) mensual', 'Nivel de referencia (m3/s)'];
const chqRightNames = ['Caudal simulado Chiquinquirá (m3/s) mensual', 'Nivel de referencia sim. (m3/s)'];
const suaANames = ['Suárez A - escenario 1 caudal (m3/s)', 'Suárez A - escenario 2 caudal (m3/s)', 'Suárez A - escenario 3 caudal (m3/s)',
  'Suárez A - escenario 4 caudal (m3/s)', 'Suárez A - escenario 5 caudal (m3/s)', 'Suárez A - escenario 6 caudal (m3/s)', 'Suárez A - caudal base (m3/s)'];
const suaBNames = ['Suárez B - escenario 1 caudal (m3/s)', 'Suárez B - escenario 2 caudal (m3/s)', 'Suárez B - escenario 3 caudal (m3/s)',
  'Suárez B - escenario 4 caudal (m3/s)', 'Suárez B - escenario 5 caudal (m3/s)', 'Suárez B - escenario 6 caudal (m3/s)',
  'Suárez B - escenario 7 caudal (m3/s)', 'Suárez B - caudal base (m3/s)'];
const suaCNames = ['Suárez C - tramo 1 caudal simulado (m3/s)', 'Suárez C - tramo 2 caudal simulado (m3/s)', 'Suárez C - tramo 3 caudal simulado (m3/s)',
  'Suárez C - caudal base (m3/s)', 'Suárez C - tramo 5 caudal simulado (m3/s)'];
const suaDNames = ['Suárez D - tramo 1 caudal simulado (m3/s)', 'Suárez D - tramo 2 caudal simulado (m3/s)', 'Suárez D - tramo 3 caudal simulado (m3/s)',
  'Suárez D - caudal base (m3/s)', 'Suárez D - tramo 5 caudal simulado (m3/s)'];
const titleTexts = [
  ['Caudales medios mensuales - Chiquinquirá', 'Serie observada en estación Puente Chiquinquirá y nivel mínimo'],
  ['Caudales simulados - Río Chiquinquirá', 'Serie simulada con el modelo hidrológico y nivel mínimo de ref.'],
  ['Caudales simulados - Río Suárez (A)', 'Escenarios de cambio climático en subcuencas del Río Suárez'],
  ['Caudales simulados - Río Suárez (B)', 'Escenarios de cambio climático en subcuencas del Río Suárez'],
  ['Caudales simulados - Río Suárez (C)', 'Escenarios de cambio climático en tramos del Río Suárez 1975'],
  ['Caudales simulados - Río Suárez (D)', 'Escenarios de cambio climático en tramos del Río Suárez 1975']
];
const yAxisName = 'Caudal (m3/s)';

// ---------------- LAYOUT / STYLE ----------------
const FONT = '"Liberation Sans", Arial, sans-serif';
const isInt = v => Math.abs(v - Math.round(v)) < 1e-6;
const steps = (start, perYear, vals) => vals.map((v, i) => [start + i / perYear, v]);
const MAIN_W = 2.2, SEC_W = 1.5;

const panels = [
  { box: [143, 23, 383, 186], xMax: 2004.85, y: [-2.5, 18.5, 0.5], leg: [541, 21, 67, 2], scroll: null,
    series: [
      { name: chqLeftNames[0], color: '#0046ff', data: steps(chqObsStart, 12, chqObsFlow), w: MAIN_W },
      { name: chqLeftNames[1], color: '#6a00e8', data: [], zero: '#6a00e8' }
    ] },
  { box: [665, 23, 382, 185], xMax: 2005.08, y: [-0.25, 20.5, 0.25], leg: [1063, 21, 66, 2], scroll: null,
    series: [
      { name: chqRightNames[0], color: '#0046ff', data: steps(chqSimStart, 12, chqSimFlow), w: MAIN_W },
      { name: chqRightNames[1], color: '#6a00e8', data: [], zero: '#6a00e8' }
    ] },
  { box: [141, 282, 375, 185], xMax: 2004.83, y: [-4.75, 11.9, 0.25], leg: [530, 279, 65, 7], scroll: [622, 279, 327],
    series: [
      { name: suaANames[0], color: '#ff1e1e', data: steps(suaAStart, 3, suaARed) },
      { name: suaANames[1], color: '#ff7a00', data: steps(suaAStart, 3, suaAOrange) },
      { name: suaANames[2], color: '#ffe000', data: steps(suaAStart, 3, suaAYellow) },
      { name: suaANames[3], color: '#c8f000', data: steps(suaAStart, 1, suaAYellowGreen) },
      { name: suaANames[4], color: '#a4ff00', data: steps(suaAStart, 1, suaALime) },
      { name: suaANames[5], color: '#66ff00', data: steps(suaAStart, 1, suaAGreen) },
      { name: suaANames[6], color: '#4cff00', data: steps(suaAStart, 12, suaAMain), w: MAIN_W, zero: '#4cff00' }
    ] },
  { box: [665, 283, 375, 183], xMax: 2005.0, y: [-5.25, 12.6, 0.25], leg: [1054, 279, 67, 8], scroll: [1148, 279, 333],
    series: [
      { name: suaBNames[0], color: '#ff1e1e', data: steps(suaBStart, 3, suaBRed) },
      { name: suaBNames[1], color: '#ff7000', data: steps(suaBStart, 3, suaBOrange) },
      { name: suaBNames[2], color: '#ffa800', data: steps(suaBStart, 3, suaBAmber) },
      { name: suaBNames[3], color: '#ffe600', data: steps(suaBStart, 3, suaBYellow) },
      { name: suaBNames[4], color: '#d0f500', data: steps(suaBStart, 1, suaBYellowGreen) },
      { name: suaBNames[5], color: '#a0ff00', data: steps(suaBStart, 1, suaBLime) },
      { name: suaBNames[6], color: '#70ff00', data: steps(suaBStart, 1, suaBGreen) },
      { name: suaBNames[7], color: '#4cff00', data: steps(suaBStart, 12, suaBMain), w: MAIN_W, zero: '#4cff00' }
    ] },
  { box: [144, 542, 375, 183], xMax: 2004.83, y: [-4.5, 11.8, 0.25], leg: [535, 538, 66, 5], scroll: [628, 538, 574],
    series: [
      { name: suaCNames[0], color: '#1ee8c0', data: steps(suaCStart, 3, suaCCyan) },
      { name: suaCNames[1], color: '#1a8cff', data: steps(suaCStart, 3, suaCAzure) },
      { name: suaCNames[2], color: '#5a28ff', data: steps(suaCStart, 3, suaCBlue) },
      { name: suaCNames[3], color: '#6a00f0', data: steps(suaCStart, 1, suaCPurple) },
      { name: suaCNames[4], color: '#7400f0', data: steps(suaCStart, 12, suaCMain), w: MAIN_W, zero: '#7400f0' }
    ] },
  { box: [668, 542, 377, 184], xMax: 2005.15, y: [-5.75, 12.7, 0.25], leg: [1059, 538, 66, 5], scroll: [1152, 538, 574],
    series: [
      { name: suaDNames[0], color: '#1ee8c0', data: steps(suaDSecStart, 3, suaDCyan) },
      { name: suaDNames[1], color: '#1a8cff', data: steps(suaDSecStart, 3, suaDAzure) },
      { name: suaDNames[2], color: '#5a28ff', data: steps(suaDSecStart, 3, suaDBlue) },
      { name: suaDNames[3], color: '#6a00f0', data: steps(suaDSecStart, 1, suaDPurple) },
      { name: suaDNames[4], color: '#7400f0', data: steps(suaDStart, 12, suaDMain), w: MAIN_W, zero: '#7400f0' }
    ] }
];

const option = { animation: false, backgroundColor: '#fff', textStyle: { fontFamily: FONT },
  grid: [], xAxis: [], yAxis: [], title: [], legend: [], series: [], graphic: [] };

panels.forEach((p, k) => {
  const [gl, gt, gw, gh] = p.box;
  option.grid.push({ left: gl, top: gt, width: gw, height: gh, show: true, borderColor: '#1a1a1a', borderWidth: 2,
    backgroundColor: '#fff', containLabel: false, outerBoundsMode: 'none' });
  option.xAxis.push({ type: 'value', gridIndex: k, min: 1975, max: p.xMax, interval: 1,
    axisLine: { show: false }, axisTick: { show: false }, splitLine: { show: false },
    axisLabel: { fontSize: 3.6, lineHeight: 6, margin: 2, color: '#555', showMaxLabel: false,
      formatter: v => isInt(v) ? '0:00\n1/1/' + String(Math.round(v)).slice(2) : '' } });
  option.yAxis.push({ type: 'value', gridIndex: k, min: p.y[0], max: p.y[1], interval: p.y[2],
    axisLine: { show: false }, axisTick: { show: false }, splitLine: { show: false },
    name: yAxisName, nameLocation: 'middle', nameGap: 17, nameRotate: 90,
    nameTextStyle: { fontSize: 4, color: '#aaa' },
    axisLabel: { fontSize: 4, margin: 4, color: '#444', showMaxLabel: false, showMinLabel: false,
      formatter: v => isInt(v) ? (v * 10).toFixed(1) : '' } });
  option.title.push({ text: titleTexts[k][0], subtext: titleTexts[k][1], left: gl + gw / 2 - 10, top: gt - 14.5,
    textAlign: 'center', padding: 0, itemGap: 1,
    textStyle: { fontSize: 4.5, lineHeight: 5, color: '#3a3aff', fontWeight: 'normal' },
    subtextStyle: { fontSize: 4.5, lineHeight: 5, color: '#3a3aff' } });
  const [ll, lt, lw, n] = p.leg;
  option.legend.push({ orient: 'vertical', left: ll, top: lt, selectedMode: false,
    data: p.series.map(s => s.name), icon: 'rect', itemWidth: 8, itemHeight: 2.2,
    itemGap: n === 2 ? 1.5 : (n === 5 ? 1.2 : 1.1),
    padding: n === 2 ? [2.5, 3, 2.5, 2] : [3, 11, 3, 3],
    backgroundColor: '#fff', borderColor: '#111', borderWidth: 2,
    textStyle: { fontSize: 4, lineHeight: n === 2 ? 4.5 : 5, color: '#555', width: lw, overflow: 'truncate', ellipsis: '' } });
  p.series.forEach((s, j) => {
    const ser = { type: 'line', name: s.name, xAxisIndex: k, yAxisIndex: k, step: 'end', data: s.data,
      showSymbol: false, symbol: 'none', silent: true, emphasis: { disabled: true }, clip: true,
      color: s.color, lineStyle: { color: s.color, width: s.w || SEC_W }, z: 2 + j };
    if (s.zero) ser.markLine = { silent: true, symbol: ['none', 'none'], label: { show: false },
      emphasis: { disabled: true }, animation: false,
      lineStyle: { color: s.zero, width: 1.6, type: 'solid' }, data: [{ yAxis: 0 }] };
    option.series.push(ser);
  });
  if (p.scroll) {
    const [R, T, B] = p.scroll;
    option.graphic.push(
      { type: 'rect', shape: { x: R - 9, y: T + 2, width: 6.5, height: B - T - 4 }, style: { fill: '#ececec', stroke: '#8a8a8a', lineWidth: 0.7 }, z: 100 },
      { type: 'rect', shape: { x: R - 8, y: T + 9, width: 4.5, height: B - T - 18 }, style: { fill: '#cfcfcf', stroke: '#9a9a9a', lineWidth: 0.6 }, z: 101 },
      { type: 'rect', shape: { x: R - 9, y: T + 2, width: 6.5, height: 5.5 }, style: { fill: '#dedede', stroke: '#555', lineWidth: 0.7 }, z: 101 },
      { type: 'rect', shape: { x: R - 9, y: B - 7.5, width: 6.5, height: 5.5 }, style: { fill: '#dedede', stroke: '#555', lineWidth: 0.7 }, z: 101 }
    );
  }
});

// table frame and row labels
const lineStyle = { stroke: '#000', lineWidth: 2 };
option.graphic.push(
  { type: 'line', shape: { x1: 7, y1: 4, x2: 7, y2: 780 }, style: lineStyle, z: 50 },
  { type: 'line', shape: { x1: 70, y1: 4, x2: 70, y2: 780 }, style: lineStyle, z: 50 },
  { type: 'line', shape: { x1: 6, y1: 4, x2: 1201, y2: 4 }, style: lineStyle, z: 50 },
  { type: 'line', shape: { x1: 6, y1: 263.5, x2: 1201, y2: 263.5 }, style: lineStyle, z: 50 },
  { type: 'line', shape: { x1: 70, y1: 521.5, x2: 1201, y2: 521.5 }, style: lineStyle, z: 50 },
  { type: 'text', x: 37, y: 134, rotation: Math.PI / 2, z: 50,
    style: { text: rowLabels[0], font: '29px "Liberation Sans", Arial, sans-serif', fill: '#000', align: 'center', verticalAlign: 'middle' } },
  { type: 'text', x: 37, y: 522, rotation: Math.PI / 2, z: 50,
    style: { text: rowLabels[1], font: '29px "Liberation Sans", Arial, sans-serif', fill: '#000', align: 'center', verticalAlign: 'middle' } }
);

const chart = echarts.init(document.getElementById('c'), null, { renderer: 'canvas', width: 1201, height: 780 });
chart.setOption(option);
</script></body></html>
